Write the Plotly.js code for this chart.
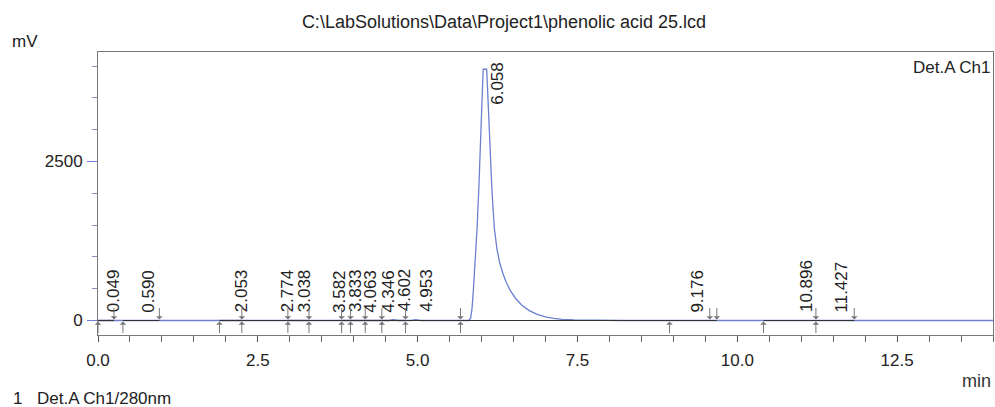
<!DOCTYPE html>
<html>
<head>
<meta charset="utf-8">
<script src="https://cdn.plot.ly/plotly-3.0.1.min.js"></script>
<style>
  html, body { margin: 0; padding: 0; background: #ffffff; }
  #chart { width: 995px; height: 407px; }
</style>
</head>
<body>
<div id="chart"></div>
<script>
// ---- Data ----
const times = [0, 0.5, 1.0, 1.5, 2.0, 2.5, 3.0, 3.5, 4.0, 4.5, 4.55, 4.62, 4.70, 4.90, 4.97, 5.05, 5.5,
  5.80, 5.83, 5.85, 5.87, 5.90, 5.93, 5.96, 5.99, 6.01, 6.025, 6.08, 6.10, 6.12, 6.14, 6.16, 6.18, 6.20,
  6.24, 6.28, 6.33, 6.385, 6.45, 6.53, 6.63, 6.74, 6.86, 7.0, 7.13, 7.26, 7.45, 7.6, 7.8, 8.2,
  9.0, 10.0, 11.0, 12.0, 13.0, 14.0];
const signal = [0, 0, 0, 0, 0, 0, 0, 0, 0, 0, 0, 15, 0, 0, 12, 0, 0,
  0, 40, 180, 450, 900, 1450, 2150, 2900, 3550, 3950, 3950, 3450, 2950, 2500, 2100, 1750, 1450,
  1130, 920, 750, 600, 470, 350, 240, 160, 100, 56, 32, 17, 9, 5, 2, 0,
  0, 0, 0, 0, 0, 0];

const peakTimes = [0.049, 0.590, 2.053, 2.774, 3.038, 3.582, 3.833, 4.063, 4.346, 4.602, 4.953, 6.058, 9.176, 10.896, 11.427];
const startMarks = [0.0, 0.39, 1.90, 2.25, 2.97, 3.30, 3.81, 3.95, 4.18, 4.44, 4.81, 5.67, 8.94, 10.41, 11.23];
const endMarks = [0.25, 0.96, 2.25, 2.97, 3.30, 3.81, 3.95, 4.18, 4.44, 4.81, 5.67, 9.57, 9.68, 11.23, 11.83];
const baseStart = [0.0, 0.39, 1.90, 2.25, 2.97, 3.30, 3.81, 3.95, 4.18, 4.44, 4.81, 5.67, 8.94, 10.41, 11.23];
const baseEnd   = [0.25, 0.96, 2.25, 2.97, 3.30, 3.81, 3.95, 4.18, 4.44, 4.81, 5.67, 9.57, 9.68, 11.23, 11.83];

const xTickVals = [0, 2.5, 5.0, 7.5, 10.0, 12.5];
const yTickVals = [0, 2500];

const titleText = 'C:\\LabSolutions\\Data\\Project1\\phenolic acid 25.lcd';

// ---- Build ----
const yRange = [-228, 4221];
const xRange = [0, 14];

const bx = [], by = [];
for (let i = 0; i < baseStart.length; i++) {
  bx.push(baseStart[i], baseEnd[i], null);
  by.push(0, 0, null);
}

function valueAt(t) {
  let best = 0, bd = Infinity;
  for (let i = 0; i < times.length; i++) {
    const d = Math.abs(times[i] - t);
    if (d < bd) { bd = d; best = signal[i]; }
  }
  return best;
}

const FONT = 'Liberation Sans, Arial, sans-serif';
const NARROW = 'Liberation Sans Narrow, Arial Narrow, Liberation Sans, Arial, sans-serif';

const annotations = [];
peakTimes.forEach(t => {
  const v = valueAt(t);
  const big = v > 2000;
  annotations.push({
    x: t, y: big ? yRange[1] : v, xref: 'x', yref: 'y',
    text: t.toFixed(3), showarrow: false, textangle: -90,
    xanchor: 'center', yanchor: big ? 'top' : 'bottom',
    xshift: 12, yshift: big ? -8 : 6,
    font: { family: NARROW, size: 17, color: '#222' }
  });
});
startMarks.forEach(t => {
  annotations.push({
    x: t, y: 0, xref: 'x', yref: 'y', text: '', showarrow: true,
    ax: 0, ay: 14, arrowhead: 1, arrowsize: 1.1, arrowwidth: 1, arrowcolor: '#777', standoff: 1
  });
});
endMarks.forEach(t => {
  annotations.push({
    x: t, y: 0, xref: 'x', yref: 'y', text: '', showarrow: true,
    ax: 0, ay: -14, arrowhead: 1, arrowsize: 1.1, arrowwidth: 1, arrowcolor: '#777', standoff: 1
  });
});

// Static texts
annotations.push(
  { xref: 'paper', yref: 'paper', x: 1, y: 1, xanchor: 'right', yanchor: 'top', yshift: -4,
    text: 'Det.A Ch1', showarrow: false, font: { family: FONT, size: 17, color: '#222' } },
  { xref: 'paper', yref: 'paper', x: -98/895, y: 1, xanchor: 'left', yanchor: 'bottom', xshift: 10, yshift: -1,
    text: 'mV', showarrow: false, font: { family: FONT, size: 17, color: '#222' } },
  { xref: 'paper', yref: 'paper', x: 1, y: 0, xanchor: 'right', yanchor: 'top', yshift: -34,
    text: 'min', showarrow: false, font: { family: FONT, size: 18, color: '#333' } },
  { xref: 'paper', yref: 'paper', x: -98/895, y: 0, xanchor: 'left', yanchor: 'top', xshift: 11, yshift: -52,
    text: '1', showarrow: false, font: { family: FONT, size: 17, color: '#222' } },
  { xref: 'paper', yref: 'paper', x: -98/895, y: 0, xanchor: 'left', yanchor: 'top', xshift: 35, yshift: -52,
    text: 'Det.A Ch1/280nm', showarrow: false, font: { family: FONT, size: 17, color: '#222' } }
);

const traces = [
  { x: times, y: signal, type: 'scatter', mode: 'lines',
    line: { color: '#6d7fd0', width: 1.3 }, hoverinfo: 'skip' },
  { x: bx, y: by, type: 'scatter', mode: 'lines',
    line: { color: '#333333', width: 1.2 }, hoverinfo: 'skip', connectgaps: false }
];

const layout = {
  width: 995, height: 407,
  margin: { l: 98, r: 2, t: 52, b: 72, pad: 0 },
  paper_bgcolor: '#ffffff', plot_bgcolor: '#ffffff',
  showlegend: false,
  title: { text: titleText, font: { family: FONT, size: 18, color: '#222' },
           xref: 'container', yref: 'container', x: 504/995, xanchor: 'center', y: 1 - 22/407, yanchor: 'middle' },
  xaxis: {
    range: xRange, tickvals: xTickVals, ticktext: xTickVals.map(v => v.toFixed(1)),
    ticks: 'outside', ticklen: 6, tickcolor: '#555', tickwidth: 1,
    minor: { dtick: 0.5, tick0: 0, ticks: 'outside', ticklen: 6, tickcolor: '#666', tickwidth: 1, showgrid: false },
    showline: true, linecolor: '#777', linewidth: 1, mirror: true,
    showgrid: false, zeroline: false,
    tickfont: { family: FONT, size: 17, color: '#222' }, ticklabelstandoff: 4
  },
  yaxis: {
    range: yRange, tickvals: yTickVals, ticktext: yTickVals.map(v => String(v)),
    ticks: 'outside', ticklen: 10, tickcolor: '#7a7ad8', tickwidth: 1,
    minor: { dtick: 500, tick0: 0, ticks: 'outside', ticklen: 5, tickcolor: '#8d8db8', tickwidth: 1, showgrid: false },
    showline: true, linecolor: '#777', linewidth: 1, mirror: true,
    showgrid: false, zeroline: false,
    tickfont: { family: FONT, size: 17, color: '#222' }, ticklabelstandoff: 1
  },
  annotations: annotations
};

Plotly.newPlot('chart', traces, layout, { staticPlot: true, displayModeBar: false });
</script>
</body>
</html>
